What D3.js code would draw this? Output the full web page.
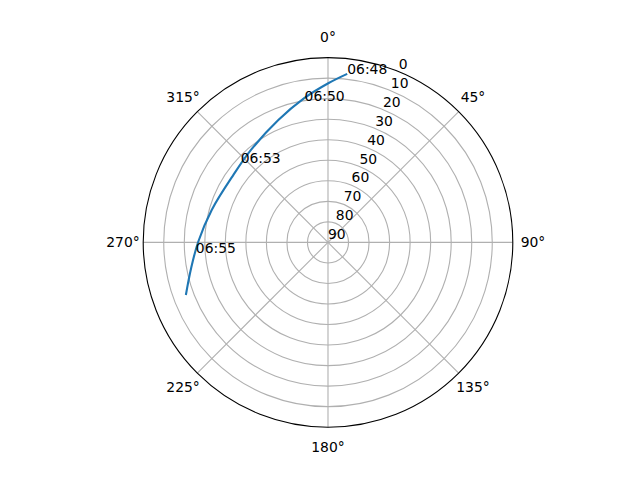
<!DOCTYPE html>
<html>
<head>
<meta charset="utf-8">
<script src="https://cdn.jsdelivr.net/npm/d3@7"></script>
<style>
  body { margin: 0; background: #fff; }
  svg text { font-family: "DejaVu Sans", sans-serif; font-size: 13.9px; fill: #000; }
</style>
</head>
<body>
<svg id="chart" width="640" height="480"></svg>
<script>
// satellite track: azimuth (deg, clockwise from N) and elevation (deg)
const azimuth = [6.5, 0.1, 350.5, 337.9, 320.2, 305.4, 285.6, 270.3, 259.4, 249.7];
const elevation = [7.4, 12.5, 18.9, 25.7, 31.4, 33.4, 31.2, 26.8, 22.2, 16.2];

// time annotations along the track
const timeLabels = ['06:48', '06:50', '06:53', '06:55'];
const timeAz = [6.5, 350.6, 312.4, 265.3];
const timeEl = [7.3, 20.2, 32.4, 25.4];

const radialTicks = [0, 10, 20, 30, 40, 50, 60, 70, 80, 90];
const thetaTicks = [0, 45, 90, 135, 180, 225, 270, 315];
const rLabelAngle = 22.5;

const cx = 328, cy = 242.4, R = 184.8;
const rad = d => d * Math.PI / 180;

const svg = d3.select('#chart');
const g = svg.append('g').attr('transform', `translate(${cx},${cy})`);

// elevation 90 at centre, 0 at the rim
const r = d3.scaleLinear().domain([90, 0]).range([0, R]);

// angular grid lines
g.selectAll('.spoke')
  .data(thetaTicks)
  .enter()
  .append('line')
  .attr('x1', 0)
  .attr('y1', 0)
  .attr('x2', t => R * Math.sin(rad(t)))
  .attr('y2', t => -R * Math.cos(rad(t)))
  .style('stroke', '#b0b0b0')
  .style('stroke-width', 1.1);

// radial grid rings
g.selectAll('.ring')
  .data(radialTicks.filter(v => v > 0 && v < 90))
  .enter()
  .append('circle')
  .attr('r', v => r(v))
  .style('fill', 'none')
  .style('stroke', '#b0b0b0')
  .style('stroke-width', 1.1);

// outer spine
g.append('circle')
  .attr('r', R)
  .style('fill', 'none')
  .style('stroke', '#000')
  .style('stroke-width', 1.1);

// theta tick labels
g.selectAll('.tlabel')
  .data(thetaTicks)
  .enter()
  .append('text')
  .attr('x', t => 205 * Math.sin(rad(t)))
  .attr('y', t => -205 * Math.cos(rad(t)) + 5)
  .attr('text-anchor', 'middle')
  .text(t => `${t}°`);

// radial tick labels
g.selectAll('.rlabel')
  .data(radialTicks)
  .enter()
  .append('text')
  .attr('x', v => r(v) * Math.sin(rad(rLabelAngle)))
  .attr('y', v => -r(v) * Math.cos(rad(rLabelAngle)) - 3)
  .attr('text-anchor', 'start')
  .text(v => v);

// the track
const track = azimuth.map((a, i) => [a, elevation[i]]);
const line = d3
  .lineRadial()
  .angle(d => rad(d[0] > 180 ? d[0] - 360 : d[0]))
  .radius(d => r(d[1]))
  .curve(d3.curveCatmullRom);

g.append('path')
  .datum(track)
  .attr('d', line)
  .style('fill', 'none')
  .style('stroke', '#1f77b4')
  .style('stroke-width', 2.1);

// time annotations
g.selectAll('.time')
  .data(timeLabels)
  .enter()
  .append('text')
  .attr('x', (t, i) => r(timeEl[i]) * Math.sin(rad(timeAz[i])))
  .attr('y', (t, i) => -r(timeEl[i]) * Math.cos(rad(timeAz[i])))
  .attr('text-anchor', 'start')
  .text(t => t);
</script>
</body>
</html>
